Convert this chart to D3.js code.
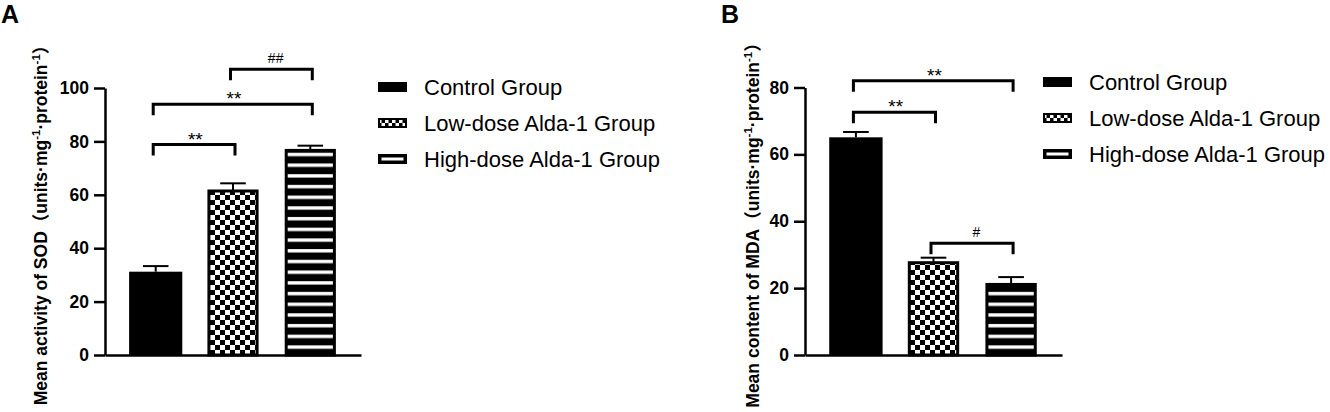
<!DOCTYPE html>
<html>
<head>
<meta charset="utf-8">
<script src="https://cdn.jsdelivr.net/npm/d3@7"></script>
<style>
  body { margin: 0; background: #fff; }
  svg text { font-family: "Liberation Sans", Arial, "Noto Sans CJK SC", sans-serif; fill: #000; }
  .tick text { font-size: 17.5px; font-weight: bold; }
  .axistitle { font-size: 17.5px; font-weight: bold; }
  .leglabel { font-size: 22px; }
  .siglabel { font-size: 19px; }
  .siglabel.hash { font-size: 14px; }
</style>
</head>
<body>
<div id="chart"></div>
<script>

// Groups and values.
const groups = ["Control Group", "Low-dose Alda-1 Group", "High-dose Alda-1 Group"];

// Panel A: SOD activity (mean, upper error)
const sodMean = [31.2, 61.8, 77.0];
const sodErr = [2.1, 2.5, 1.4];
const sodTicks = [0, 20, 40, 60, 80, 100];
const sodSig = [
	{ a: 0, b: 1, level: 78.8, label: "**" },
	{ a: 0, b: 2, level: 93.9, label: "**" },
	{ a: 1, b: 2, level: 107.0, label: "##" }
];

// Panel B: MDA content
const mdaMean = [65.1, 27.9, 21.4];
const mdaErr = [1.6, 1.2, 1.9];
const mdaTicks = [0, 20, 40, 60, 80];
const mdaSig = [
	{ a: 0, b: 2, level: 82.0, label: "**" },
	{ a: 0, b: 1, level: 72.6, label: "**" },
	{ a: 1, b: 2, level: 33.4, label: "#" }
];


let svg = d3.select("#chart").append("svg")
	.attr("width", 1330)
	.attr("height", 412);


// Fill patterns: checkerboard and horizontal stripes.
const defs = svg.append("defs");

let checker = defs.append("pattern")
	.attr("id", "checker")
	.attr("patternUnits", "userSpaceOnUse")
	.attr("width", 10).attr("height", 10);
checker.append("rect").attr("width", 10).attr("height", 10).attr("fill", "#fff");
checker.append("rect").attr("width", 5).attr("height", 5).attr("fill", "#000");
checker.append("rect").attr("x", 5).attr("y", 5).attr("width", 5).attr("height", 5).attr("fill", "#000");

let checkSmall = defs.append("pattern")
	.attr("id", "checkSmall")
	.attr("patternUnits", "userSpaceOnUse")
	.attr("width", 7).attr("height", 7);
checkSmall.append("rect").attr("width", 7).attr("height", 7).attr("fill", "#fff");
checkSmall.append("rect").attr("width", 3.5).attr("height", 3.5).attr("fill", "#000");
checkSmall.append("rect").attr("x", 3.5).attr("y", 3.5).attr("width", 3.5).attr("height", 3.5).attr("fill", "#000");

let stripes = defs.append("pattern")
	.attr("id", "stripes")
	.attr("patternUnits", "userSpaceOnUse")
	.attr("width", 10).attr("height", 10.7);
stripes.append("rect").attr("width", 10).attr("height", 10.7).attr("fill", "#000");
stripes.append("rect").attr("y", 3).attr("width", 10).attr("height", 3.4).attr("fill", "#fff");

const barFill = ["#000", "url(#checker)", "url(#stripes)"];


function drawPanel(p) {

	const g = svg.append("g");

	// Scales
	let x = d3.scaleBand()
		.domain(groups)
		.range([p.left, p.right])
		.paddingInner(0.338)
		.paddingOuter(0.325);

	let y = d3.scaleLinear()
		.domain([0, p.max])
		.range([355, p.top]);

	// y-axis
	let yAxis = d3.axisLeft(y)
		.tickValues(p.ticks)
		.tickSize(11)
		.tickSizeOuter(0)
		.tickPadding(5);
	let yAxisEl = g.append("g")
		.attr("transform", "translate(" + p.left + ",0)")
		.call(yAxis);
	yAxisEl.selectAll("path, line").attr("stroke", "#000").attr("stroke-width", 2.5);

	// x-axis, no labels
	let xAxisEl = g.append("g")
		.attr("transform", "translate(0," + y(0) + ")")
		.call(d3.axisBottom(x).tickSize(0).tickSizeOuter(0).tickFormat(""));
	xAxisEl.select("path").attr("stroke", "#000").attr("stroke-width", 2.5);

	// Bars
	const bw = x.bandwidth();
	g.selectAll("rect.bar")
		.data(p.mean)
		.join("rect")
		.attr("class", "bar")
		.attr("x", (d, i) => x(groups[i]) + (i ? 1.5 : 0))
		.attr("y", d => y(d) + 1)
		.attr("width", (d, i) => bw - (i ? 3 : 0))
		.attr("height", d => y(0) - y(d) - 1)
		.attr("fill", (d, i) => barFill[i])
		.attr("stroke", "#000")
		.attr("stroke-width", (d, i) => i ? 3 : 2);

	// Error bars (upper only)
	const err = g.selectAll("g.err")
		.data(p.mean)
		.join("g")
		.attr("class", "err")
		.attr("stroke", "#000")
		.attr("stroke-width", 2);
	err.append("line")
		.attr("x1", (d, i) => x(groups[i]) + bw / 2)
		.attr("x2", (d, i) => x(groups[i]) + bw / 2)
		.attr("y1", d => y(d))
		.attr("y2", (d, i) => y(d + p.err[i]));
	err.append("line")
		.attr("x1", (d, i) => x(groups[i]) + bw / 4)
		.attr("x2", (d, i) => x(groups[i]) + bw * 3 / 4)
		.attr("y1", (d, i) => y(d + p.err[i]))
		.attr("y2", (d, i) => y(d + p.err[i]));

	// Significance brackets
	const cx = i => x(groups[i]) + bw / 2;
	g.selectAll("path.sig")
		.data(p.sig)
		.join("path")
		.attr("class", "sig")
		.attr("fill", "none")
		.attr("stroke", "#000")
		.attr("stroke-width", 3)
		.attr("d", d => {
			const yy = y(d.level);
			return "M" + (cx(d.a) - 2.5) + "," + (yy + 11) + "V" + yy +
				"H" + (cx(d.b) + 2) + "V" + (yy + 11);
		});
	g.selectAll("text.siglabel")
		.data(p.sig)
		.join("text")
		.attr("class", d => "siglabel" + (d.label[0] == "#" ? " hash" : ""))
		.attr("text-anchor", "middle")
		.attr("x", d => (cx(d.a) + cx(d.b)) / 2 + (d.label[0] == "#" ? 4 : 1))
		.attr("y", d => y(d.level) + (d.label[0] == "*" ? 1 : -6))
		.text(d => d.label);

	// y-axis title with superscripts
	let title = g.append("text")
		.attr("class", "axistitle")
		.attr("text-anchor", "middle")
		.attr("transform", "translate(" + p.titleX + ",221) rotate(-90)")
		.attr("y", 6.5);
	title.append("tspan").text(p.title + "（units·mg");
	title.append("tspan").attr("dy", -7).style("font-size", "11.5px").text("-1");
	title.append("tspan").attr("dy", 7).text("·protein");
	title.append("tspan").attr("dy", -7).style("font-size", "11.5px").text("-1");
	title.append("tspan").attr("dy", 7).text("）");

	// Panel letter
	g.append("text")
		.attr("x", p.letterX)
		.attr("y", 23)
		.style("font-size", "25px")
		.style("font-weight", "bold")
		.text(p.letter);

	// Legend
	let legend = g.append("g")
		.attr("transform", "translate(" + p.legX + "," + p.legY + ")");
	const legRow = legend.selectAll("g")
		.data(groups)
		.join("g")
		.attr("transform", (d, i) => "translate(0," + (i * 36) + ")");
	legRow.append("rect")
		.attr("x", (d, i) => [0, 1, 1.75][i])
		.attr("y", (d, i) => [-5, -4, -3.25][i])
		.attr("width", (d, i) => [29, 27, 25.5][i])
		.attr("height", (d, i) => [10, 8, 6.5][i])
		.attr("fill", (d, i) => ["#000", "url(#checkSmall)", "#fff"][i])
		.attr("stroke", "#000")
		.attr("stroke-width", (d, i) => [0, 2, 3.5][i]);
	legRow.append("text")
		.attr("class", "leglabel")
		.attr("x", 46)
		.attr("y", 8)
		.text(d => d);
}


drawPanel({
	letter: "A", letterX: 1,
	left: 105, right: 361, top: 88, max: 100,
	ticks: sodTicks, mean: sodMean, err: sodErr, sig: sodSig,
	title: "Mean activity of SOD", titleX: 40,
	legX: 378, legY: 87
});

drawPanel({
	letter: "B", letterX: 721,
	left: 805, right: 1062, top: 87.5, max: 80,
	ticks: mdaTicks, mean: mdaMean, err: mdaErr, sig: mdaSig,
	title: "Mean content of MDA", titleX: 752,
	legX: 1043, legY: 82
});

</script>
</body>
</html>
